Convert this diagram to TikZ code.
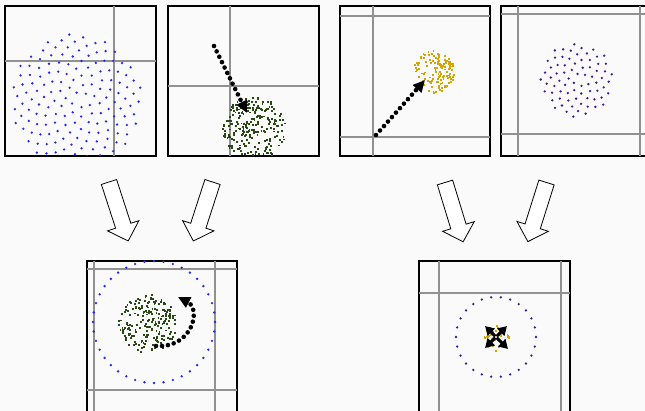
\documentclass[tikz,border=0pt]{standalone}
\usetikzlibrary{arrows.meta}
\definecolor{bgcol}{RGB}{250,250,250}
\definecolor{bluedot}{RGB}{40,40,245}
\definecolor{greendot}{RGB}{40,72,22}
\definecolor{golddot}{RGB}{215,165,0}
\definecolor{violetdot}{RGB}{62,30,150}
\definecolor{gridcol}{RGB}{145,145,145}

\begin{document}
\begin{tikzpicture}
        [
        x=1pt, y=-1pt,
        panel/.style={draw=black,line width=1.3pt,minimum width=151pt,minimum height=150pt,inner sep=0pt,outer sep=0pt},
        gridline/.style={draw=gridcol,line width=1.1pt},
        hollow/.style={draw=black,fill=white,line width=0.8pt,line join=miter},
        move/.style={line width=4.6pt,dash pattern=on 0pt off 6pt,line cap=round,-{Triangle[length=12pt,width=11pt]}},
        push/.style={line width=3pt,-{Triangle[length=9pt,width=10pt]},shorten <=1pt}
        ]
    \clip (0,0) rectangle (645,411);
    \fill[bgcol] (0,0) rectangle (645,411);

    % top row
    \node[panel] (p1) at (80.5,81) {};
    \node[panel] (p2) at (243.5,81) {};
    \node[panel,minimum width=150pt] (p3) at (415,81) {};
    \node[panel] (p4) at (576.5,81) {};
    % bottom row
    \node[panel,minimum width=150pt,minimum height=159pt] (p5) at (162,340.5) {};
    \node[panel,minimum width=151pt,minimum height=159pt] (p6) at (494.5,340.5) {};

    \coordinate (c1) at (76,100);
    \coordinate (c2) at (253,128);
    \coordinate (c3) at (433,71);
    \coordinate (c4) at (577,80);
    \coordinate (c5) at (154,322);
    \coordinate (g5) at (147,323);
    \coordinate (c6) at (496,337);

    \begin{scope}
    \clip (p1.south west) rectangle (p1.north east);
    \draw[gridline] (5,61) -- (156,61);
    \draw[gridline] (114,6) -- (114,156);
    \foreach \i in {1,...,160}
        \fill[bluedot] (c1) ++({360*frac(0.381966*\i)}:{66*sqrt(\i/160)}) circle (1.3pt);
    \end{scope}

    \begin{scope}
    \clip (p2.south west) rectangle (p2.north east);
    \draw[gridline] (168,86) -- (319,86);
    \draw[gridline] (230,6) -- (230,156);
    \pgfmathsetseed{3}
    \foreach \i in {1,...,240}{
        \pgfmathsetmacro\rad{32*sqrt(rnd)}
        \pgfmathsetmacro\ang{360*rnd}
        \fill[greendot] (c2) ++(\ang:\rad) rectangle +(1.9,1.9);
    }
    \end{scope}

    \begin{scope}
    \clip (p3.south west) rectangle (p3.north east);
    \draw[gridline] (340,16) -- (490,16);
    \draw[gridline] (340,137) -- (490,137);
    \draw[gridline] (373,6) -- (373,156);
    \pgfmathsetseed{17}
    \foreach \i in {1,...,130}{
        \pgfmathsetmacro\rad{21*sqrt(rnd)}
        \pgfmathsetmacro\ang{360*rnd}
        \fill[golddot] (c3) ++(\ang:\rad) rectangle +(1.9,1.9);
    }
    \end{scope}

    \begin{scope}
    \clip (p4.south west) rectangle (p4.north east);
    \draw[gridline] (501,14) -- (652,14);
    \draw[gridline] (501,134) -- (652,134);
    \draw[gridline] (518,6) -- (518,156);
    \draw[gridline] (640,6) -- (640,156);
    \foreach \i in {1,...,75}
        \fill[violetdot] (c4) ++({360*frac(0.381966*\i)}:{37*sqrt(\i/75)}) circle (1.3pt);
    \end{scope}

    \begin{scope}
    \clip (p5.south west) rectangle (p5.north east);
    \draw[gridline] (87,269) -- (237,269);
    \draw[gridline] (87,390) -- (237,390);
    \draw[gridline] (94,261) -- (94,420);
    \draw[gridline] (215,261) -- (215,420);
    \foreach \i in {0,...,39}
        \fill[bluedot] (c5) ++({9*\i}:61) circle (1.3pt);
    \pgfmathsetseed{29}
    \foreach \i in {1,...,200}{
        \pgfmathsetmacro\rad{29*sqrt(rnd)}
        \pgfmathsetmacro\ang{360*rnd}
        \fill[greendot] (g5) ++(\ang:\rad) rectangle +(1.9,1.9);
    }
    \end{scope}

    \begin{scope}
    \clip (p6.south west) rectangle (p6.north east);
    \draw[gridline] (419,293) -- (570,293);
    \draw[gridline] (439,261) -- (439,420);
    \draw[gridline] (561,261) -- (561,420);
    \foreach \i in {0,...,25}
        \fill[violetdot] (c6) ++({360/26*\i}:40) circle (1.3pt);
    \pgfmathsetseed{41}
    \foreach \i in {1,...,45}{
        \pgfmathsetmacro\rad{13*sqrt(rnd)}
        \pgfmathsetmacro\ang{360*rnd}
        \fill[golddot] (c6) ++(\ang:\rad) rectangle +(1.9,1.9);
    }
    \end{scope}

    % dotted moves
    \coordinate (m2a) at (214,46);
    \coordinate (m2b) at (247,113);
    \coordinate (m3a) at (376,135);
    \coordinate (m3b) at (425,80);
    \coordinate (m5a) at (156,346);
    \coordinate (m5b) at (178,297);
    \draw[move] (m2a) -- (m2b);
    \draw[move] (m3a) -- (m3b);
    \draw[move] (m5a) .. controls (193,348) and (201,309) .. (m5b);

    % burst
    \coordinate (t1) at (485,326);
    \coordinate (t2) at (507,326);
    \coordinate (t3) at (485,348);
    \coordinate (t4) at (508,349);
    \foreach \n in {1,...,4}
        \draw[push] (c6) -- (t\n);

    % hollow arrows
    \foreach \x/\y/\a in {109/182/-72, 212.5/182/-108, 445/182.5/-73, 546.5/182.5/-107.5}
        \draw[hollow,shift={(\x,\y)},rotate=\a] (0,-8) -- (46,-8) -- (46,-16.5) -- (62,0) -- (46,16.5) -- (46,8) -- (0,8) -- cycle;
    \end{tikzpicture}
\end{document}
